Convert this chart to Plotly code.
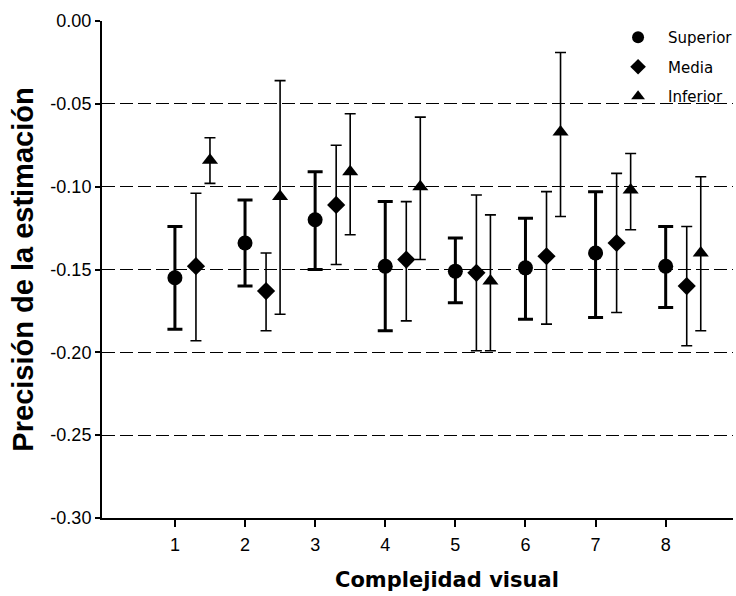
import plotly.graph_objects as go

categories = [1, 2, 3, 4, 5, 6, 7, 8]

superior_mean = [-0.155, -0.134, -0.120, -0.148, -0.151, -0.149, -0.140, -0.148]
superior_high = [-0.124, -0.108, -0.091, -0.109, -0.131, -0.119, -0.103, -0.124]
superior_low = [-0.186, -0.160, -0.150, -0.187, -0.170, -0.180, -0.179, -0.173]

media_mean = [-0.148, -0.163, -0.111, -0.144, -0.152, -0.142, -0.134, -0.160]
media_high = [-0.104, -0.140, -0.075, -0.109, -0.105, -0.103, -0.092, -0.124]
media_low = [-0.193, -0.187, -0.147, -0.181, -0.199, -0.183, -0.176, -0.196]

inferior_mean = [-0.084, -0.106, -0.091, -0.100, -0.157, -0.067, -0.102, -0.140]
inferior_high = [-0.0705, -0.036, -0.056, -0.058, -0.117, -0.019, -0.080, -0.094]
inferior_low = [-0.098, -0.177, -0.129, -0.144, -0.199, -0.118, -0.126, -0.187]

y_tickvals = [0.0, -0.05, -0.10, -0.15, -0.20, -0.25, -0.30]
y_ticktext = ["0.00", "-0.05", "-0.10", "-0.15", "-0.20", "-0.25", "-0.30"]

x_title = "Complejidad visual"
y_title = "Precisión de la estimación"

series_names = ["Superior", "Media", "Inferior"]
offsets = [0.0, 0.3, 0.5]

fig = go.Figure()

specs = [
    (superior_mean, superior_high, superior_low, "circle", 15, 3, 7.5),
    (media_mean, media_high, media_low, "diamond", 14, 1.6, 5.5),
    (inferior_mean, inferior_high, inferior_low, "triangle-up", 14, 1.6, 5.5),
]

for name, off, (mean, hi, lo, sym, msize, ethick, ewidth) in zip(series_names, offsets, specs):
    fig.add_trace(go.Scatter(
        x=[c + off for c in categories],
        y=mean,
        mode="markers",
        name=name,
        legendgroup=name,
        marker=dict(symbol=sym, size=msize, color="black"),
        error_y=dict(
            type="data",
            symmetric=False,
            array=[h - m for h, m in zip(hi, mean)],
            arrayminus=[m - l for m, l in zip(mean, lo)],
            color="black",
            thickness=ethick,
            width=ewidth,
        ),
    ))

fig.add_annotation(
    text="<b>" + x_title + "</b>",
    xref="paper", yref="paper",
    x=0.547, y=0, xanchor="center", yanchor="middle",
    yshift=-62,
    showarrow=False,
    font=dict(family="DejaVu Sans", size=21, color="black"),
)

fig.update_layout(
    width=736,
    height=596,
    margin=dict(l=102, r=3, t=21, b=78, autoexpand=False),
    plot_bgcolor="white",
    paper_bgcolor="white",
    showlegend=True,
    legend=dict(
        x=0.802, y=1.0, xanchor="left", yanchor="top",
        bgcolor="rgba(0,0,0,0)",
        font=dict(family="DejaVu Sans", size=15, color="black"),
        tracegroupgap=7,
        itemwidth=50,
        itemsizing="constant",
    ),
    xaxis=dict(
        range=[-0.04, 8.96],
        tickvals=categories,
        ticktext=[str(c) for c in categories],
        showgrid=False,
        zeroline=False,
        showline=True,
        linecolor="black",
        linewidth=2,
        ticks="outside",
        ticklen=7,
        tickcolor="black",
        tickwidth=1.5,
        ticklabelstandoff=2,
        tickfont=dict(family="Liberation Sans", size=18, color="black"),
    ),
    yaxis=dict(
        range=[-0.30, 0.0],
        tickvals=y_tickvals,
        ticktext=y_ticktext,
        showgrid=True,
        gridcolor="black",
        gridwidth=1.3,
        griddash="13px,5px",
        zeroline=False,
        showline=True,
        linecolor="black",
        linewidth=2,
        ticks="outside",
        ticklen=5,
        tickcolor="black",
        tickwidth=1.5,
        tickfont=dict(family="Liberation Sans", size=18, color="black"),
        title=dict(text="<b>" + y_title + "</b>",
                   font=dict(family="Liberation Sans", size=29, color="black"),
                   standoff=8),
    ),
)

fig.write_html("out.html", config={"displayModeBar": False},
               post_script="document.body.style.margin='0';")
